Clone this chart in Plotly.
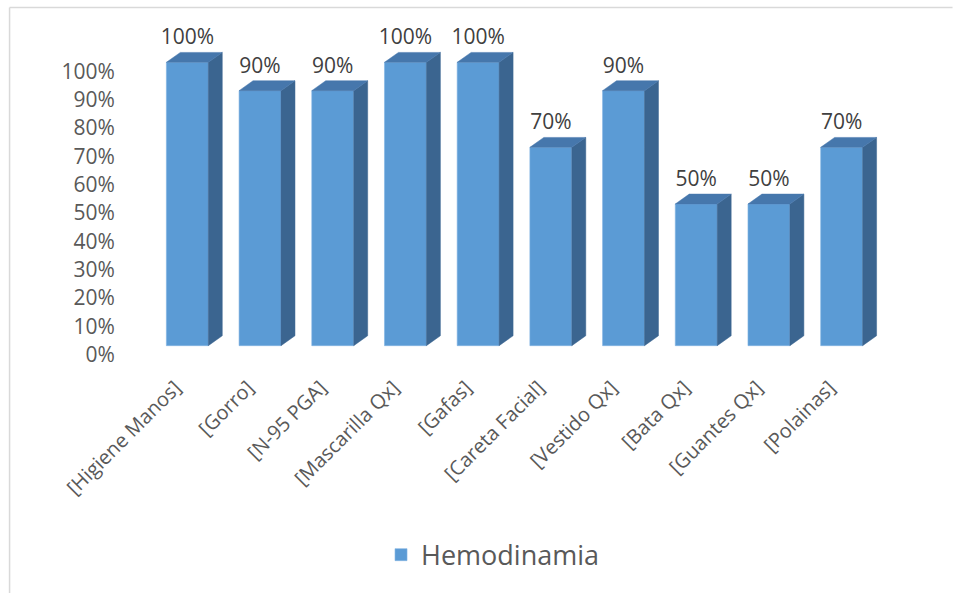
import plotly.graph_objects as go

# -----------------------------------
# DATA
# -----------------------------------
categories = ["[Higiene Manos]", "[Gorro]", "[N-95 PGA]", "[Mascarilla Qx]", "[Gafas]",
              "[Careta Facial]", "[Vestido Qx]", "[Bata Qx]", "[Guantes Qx]", "[Polainas]"]
hemodinamia = [1.0, 0.9, 0.9, 1.0, 1.0, 0.7, 0.9, 0.5, 0.5, 0.7]
y_ticks = [0, 0.1, 0.2, 0.3, 0.4, 0.5, 0.6, 0.7, 0.8, 0.9, 1.0]
y_tick_labels = ["0%", "10%", "20%", "30%", "40%", "50%", "60%", "70%", "80%", "90%", "100%"]

FRONT = "#5B9BD5"
SIDE = "#3B6590"
TOP = "#4677AC"

# fake 3D depth (in axis units)
bar_w = 0.577
dx = 0.192
dy = 0.035

xs = list(range(len(categories)))

fig = go.Figure()

fig.add_trace(go.Bar(
    x=xs, y=hemodinamia, width=bar_w, name="Hemodinamia",
    marker=dict(color=FRONT, line=dict(color="#7FB2E3", width=0.6)),
    hoverinfo="skip", showlegend=True
))

# side and top faces
sx, sy = [], []
tx, ty = [], []
for x, v in zip(xs, hemodinamia):
    xl, xr = x - bar_w / 2, x + bar_w / 2
    sx += [xr, xr + dx, xr + dx, xr, xr, None]
    sy += [0, dy, v + dy, v, 0, None]
    tx += [xl, xl + dx, xr + dx, xr, xl, None]
    ty += [v, v + dy, v + dy, v, v, None]

fig.add_trace(go.Scatter(x=sx, y=sy, fill="toself", fillcolor=SIDE, mode="lines",
                         line=dict(color=SIDE, width=0.5), hoverinfo="skip", showlegend=False))
fig.add_trace(go.Scatter(x=tx, y=ty, fill="toself", fillcolor=TOP, mode="lines",
                         line=dict(color=TOP, width=0.5), hoverinfo="skip", showlegend=False))

# value labels
fig.add_trace(go.Scatter(
    x=xs, y=[v + dy + 0.01 for v in hemodinamia], mode="text",
    text=[f"{round(v * 100)}%" for v in hemodinamia], textposition="top center",
    textfont=dict(family="Open Sans", size=21, color="#404040"),
    cliponaxis=False, hoverinfo="skip", showlegend=False
))

# invisible trace for the offset tick label axis
fig.add_trace(go.Scatter(x=[0], y=[0.5], yaxis="y2", mode="markers",
                         marker=dict(opacity=0), hoverinfo="skip", showlegend=False))

W, H = 953, 594
ml, mr, mt, mb = 150.6, 74.6, 33.6, 236.6
pw, ph = W - ml - mr, H - mt - mb

fig.update_layout(
    width=W, height=H,
    margin=dict(l=ml, r=mr, t=mt, b=mb),
    paper_bgcolor="white", plot_bgcolor="white",
    font=dict(family="Open Sans", color="#595959"),
    xaxis=dict(
        range=[-0.5, 9.5], tickmode="array", tickvals=xs, ticktext=categories,
        tickangle=-45, tickfont=dict(size=20, color="#595959"),
        showgrid=False, zeroline=False, showline=False,
        ticks="outside", ticklen=10, tickcolor="rgba(0,0,0,0)",
        ticklabelshift=-12
    ),
    yaxis=dict(range=[-0.04, 1.1], showticklabels=False, showgrid=False, zeroline=False,
               showline=False),
    yaxis2=dict(range=[-0.0083, 1.1317], overlaying="y", side="left",
                tickmode="array", tickvals=y_ticks, ticktext=y_tick_labels,
                tickfont=dict(size=21, color="#595959"),
                showgrid=False, zeroline=False, showline=False,
                ticks="outside", ticklen=31, tickcolor="rgba(0,0,0,0)"),
    legend=dict(orientation="h", x=(493 - ml) / pw, xanchor="center",
                y=(H - mb - 556) / ph, yanchor="middle",
                font=dict(size=27, color="#595959")),
    showlegend=True,
)

# chart border (top and left edges visible)
fig.add_shape(type="line", xref="paper", yref="paper",
              x0=(9 - ml) / pw, x1=(W - ml) / pw,
              y0=(H - mb - 7) / ph, y1=(H - mb - 7) / ph,
              line=dict(color="#D9D9D9", width=1.5))
fig.add_shape(type="line", xref="paper", yref="paper",
              x0=(9 - ml) / pw, x1=(9 - ml) / pw,
              y0=(H - mb - 7) / ph, y1=-mb / ph,
              line=dict(color="#D9D9D9", width=1.5))

fig.write_html("out.html", config={"displayModeBar": False},
               post_script="document.body.style.margin='0';")
